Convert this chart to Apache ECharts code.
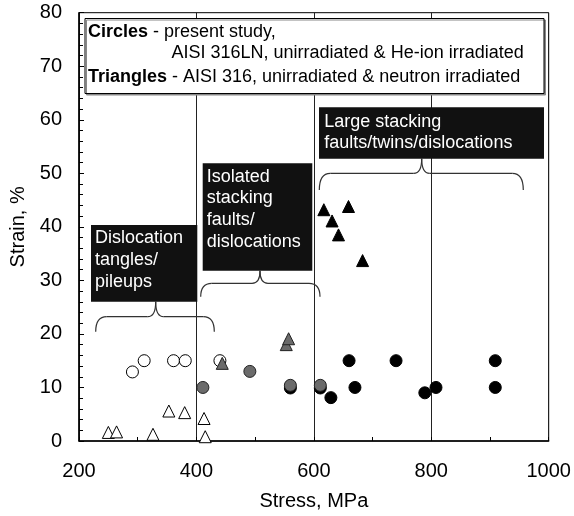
<!DOCTYPE html>
<html><head><meta charset="utf-8">
<script src="https://cdn.jsdelivr.net/npm/echarts@6/dist/echarts.min.js"></script>
<style>html,body{margin:0;padding:0;background:#fff}#c{width:574px;height:516px}</style>
</head><body><div id="c"></div>
<script>
// ---- data ----
const xTicks = [200, 400, 600, 800, 1000];
const yTicks = [0, 10, 20, 30, 40, 50, 60, 70, 80];

// Circles: present study, AISI 316LN
const openCircleStress = [291, 311, 361, 381, 440];
const openCircleStrain = [12.9, 15, 15, 15, 15];
const blackCircleStress = [560, 611, 629, 660, 670, 740, 789, 808, 909, 909];
const blackCircleStrain = [9.9, 9.9, 8.1, 15, 10, 15, 9, 10, 15, 10];
const grayCircleStress = [411, 491, 560, 611];
const grayCircleStrain = [10, 13, 10.4, 10.4];

// Triangles: AISI 316
const openTriStress = [250, 264, 326, 353, 380, 413, 415];
const openTriStrain = [1.6, 1.7, 1.25, 5.6, 5.3, 4.2, 0.8];
const grayTriStress = [444, 553, 557];
const grayTriStrain = [14.5, 18, 19.1];
const blackTriStress = [617, 631, 642, 659, 683];
const blackTriStrain = [43.2, 41.1, 38.5, 43.8, 33.7];

const pairs = (xs, ys) => xs.map((x, i) => [x, ys[i]]);

const FONT = '"Liberation Sans", Arial, sans-serif';
const chart = echarts.init(document.getElementById('c'), null, {renderer: 'canvas'});

function sc(name, xs, ys, symbol, fill, stroke, size) {
  return {
    type: 'scatter', name, data: pairs(xs, ys), symbol, symbolSize: size,
    itemStyle: {color: fill, borderColor: stroke, borderWidth: 1, opacity: 1},
    emphasis: {disabled: true}, z: 5
  };
}

const braceStyle = {fill: 'none', stroke: '#333', lineWidth: 1.2};
function bz(x1, y1, cx, cy, x2, y2) {
  return {type: 'bezierCurve', z: 19, shape: {x1, y1, x2, y2, cpx1: cx, cpy1: cy}, style: braceStyle};
}
function ln(x1, y1, x2, y2) {
  return {type: 'line', z: 19, shape: {x1, y1, x2, y2}, style: braceStyle};
}
function brace(x0, x1, xm, yE, yH, yP) {
  const r = 11, m = 8;
  return [
    bz(x0, yE, x0, yH, x0 + r, yH),
    ln(x0 + r, yH, xm - m, yH),
    bz(xm - m, yH, xm, yH, xm, yP),
    bz(xm, yP, xm, yH, xm + m, yH),
    ln(xm + m, yH, x1 - r, yH),
    bz(x1 - r, yH, x1, yH, x1, yE)
  ];
}

function annot(x, y, w, h, tx, ty, text) {
  return [
    {type: 'rect', shape: {x, y, width: w, height: h}, style: {fill: '#111'}, z: 20},
    {type: 'text', x: tx, y: ty, z: 21,
     style: {text, fill: '#fff', font: `18px ${FONT}`, lineHeight: 21.7, verticalAlign: 'top', align: 'left'}}
  ];
}

const graphics = [
  // legend box
  {type: 'rect', shape: {x: 85, y: 18.5, width: 459, height: 75},
   style: {fill: '#fff', stroke: '#000', lineWidth: 1, shadowColor: '#888', shadowOffsetX: 1.5, shadowOffsetY: 1.5, shadowBlur: 0}, z: 20},
  {type: 'text', x: 88, y: 32.5, z: 21,
   style: {text: '{b|Circles} - present study,', font: `18px ${FONT}`, fill: '#000', verticalAlign: 'middle',
           rich: {b: {fontWeight: 'bold', fontSize: 18, fontFamily: FONT}}}},
  {type: 'text', x: 171.5, y: 53.5, z: 21,
   style: {text: 'AISI 316LN, unirradiated & He-ion irradiated', font: `18px ${FONT}`, fill: '#000', verticalAlign: 'middle'}},
  {type: 'text', x: 88, y: 77, z: 21,
   style: {text: '{b|Triangles} - AISI 316, unirradiated & neutron irradiated', font: `18px ${FONT}`, fill: '#000', verticalAlign: 'middle',
           rich: {b: {fontWeight: 'bold', fontSize: 18, fontFamily: FONT}}}},
  ...annot(91, 225, 106.3, 76.7, 95, 227.5, 'Dislocation\ntangles/\npileups'),
  ...annot(202.7, 163.3, 109.6, 107.4, 206.7, 165.8, 'Isolated\nstacking\nfaults/\ndislocations'),
  ...annot(319, 107.3, 225, 51.4, 324.3, 110.8, 'Large stacking\nfaults/twins/dislocations'),
  ...brace(95.7, 214.3, 155.7, 331.7, 316.7, 301.7),
  ...brace(200.7, 320, 260, 296.7, 283.3, 270.7),
  ...brace(319.3, 523.3, 421.7, 190, 173.3, 158.7)
];

chart.setOption({
  animation: false,
  backgroundColor: '#fff',
  textStyle: {fontFamily: FONT},
  grid: {left: 79, right: 25.3, top: 12.7, bottom: 73.3, show: true, borderColor: '#000', borderWidth: 1, backgroundColor: 'transparent'},
  xAxis: {
    type: 'value', min: xTicks[0], max: xTicks[xTicks.length - 1], interval: 200,
    name: 'Stress, MPa', nameLocation: 'middle', nameGap: 50,
    nameTextStyle: {fontSize: 20, color: '#000', fontFamily: FONT},
    axisLine: {show: true, lineStyle: {color: '#000', width: 1.5}},
    axisTick: {show: true, inside: true, length: 4, lineStyle: {color: '#000'}},
    minorTick: {show: true, splitNumber: 2, length: 4, lineStyle: {color: '#000'}},
    axisLabel: {fontSize: 20, color: '#000', margin: 20, fontFamily: FONT, formatter: v => String(v)},
    splitLine: {show: true, lineStyle: {color: '#222', width: 1}}
  },
  yAxis: {
    type: 'value', min: yTicks[0], max: yTicks[yTicks.length - 1], interval: 10,
    name: 'Strain, %', nameLocation: 'middle', nameGap: 50,
    nameTextStyle: {fontSize: 20, color: '#000', fontFamily: FONT},
    axisLine: {show: true, lineStyle: {color: '#000', width: 1.5}},
    axisTick: {show: true, inside: true, length: 5, lineStyle: {color: '#000'}},
    minorTick: {show: true, splitNumber: 5, length: 4, lineStyle: {color: '#000'}},
    axisLabel: {fontSize: 20, color: '#000', margin: 17, fontFamily: FONT, formatter: v => String(v)},
    splitLine: {show: false}
  },
  series: [
    sc('open circles', openCircleStress, openCircleStrain, 'circle', '#fff', '#000', 12),
    sc('black circles', blackCircleStress, blackCircleStrain, 'circle', '#000', '#000', 12),
    sc('gray circles', grayCircleStress, grayCircleStrain, 'circle', '#6b6b6b', '#222', 12),
    sc('open triangles', openTriStress, openTriStrain, 'triangle', '#fff', '#000', 12),
    sc('gray triangles', grayTriStress, grayTriStrain, 'triangle', '#6b6b6b', '#222', 12),
    sc('black triangles', blackTriStress, blackTriStrain, 'triangle', '#000', '#000', 12)
  ],
  graphic: graphics
});
</script></body></html>
